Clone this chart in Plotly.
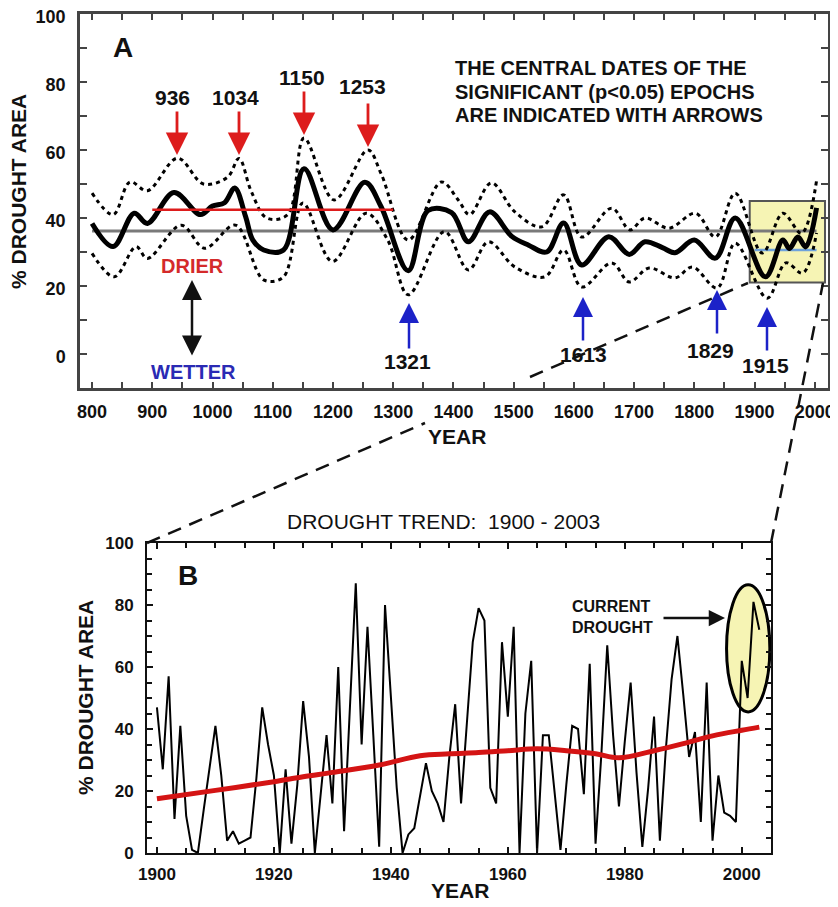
import plotly.graph_objects as go

# The page body has a default 8px margin, so the figure is sized to fill the
# rest of the 838x907 window and all pixel positions are measured from the window.
OFF = 8
W, H = 838 - OFF, 907 - OFF
FONT = "Liberation Sans, Arial, Helvetica, sans-serif"

# ---------------- Panel A data ----------------
a_years = [800, 835, 870, 892, 936, 980, 1000, 1020, 1037, 1055, 1067, 1085, 1118, 1152,
           1200, 1253, 1280, 1325, 1358, 1397, 1425, 1460, 1497, 1525, 1555, 1583, 1613,
           1658, 1692, 1718, 1747, 1768, 1800, 1835, 1868, 1918, 1947, 1958, 1972, 1985, 2003]
a_mean = [38.4, 31.6, 41.4, 38.4, 47.5, 41.0, 43.5, 44.5, 48.8, 40.4, 33.5, 30.6, 30.6, 54.5,
          36.5, 50.5, 43.3, 24.5, 42.2, 41.6, 33.0, 41.8, 34.6, 32.0, 30.0, 38.5, 26.2,
          34.5, 29.3, 33.0, 31.3, 29.8, 33.5, 28.2, 40.0, 22.7, 33.5, 31.0, 34.4, 31.5, 43.0]

a_up_years = [800, 835, 863, 892, 942, 985, 1025, 1044, 1064, 1090, 1125, 1152, 1202, 1258,
              1280, 1325, 1380, 1408, 1427, 1463, 1502, 1547, 1583, 1613, 1663, 1693, 1718,
              1758, 1802, 1835, 1868, 1913, 1947, 1978, 2003]
a_upper = [47.3, 41.0, 50.6, 48.0, 57.6, 50.0, 52.0, 57.5, 48.0, 40.0, 41.0, 63.5, 45.3, 60.0,
           53.0, 33.5, 50.6, 45.3, 41.0, 50.3, 41.8, 37.4, 46.8, 34.4, 42.9, 36.5, 40.0,
           37.0, 41.4, 34.4, 47.3, 29.7, 41.4, 35.5, 51.0]

a_lo_years = [800, 837, 873, 892, 948, 987, 1038, 1085, 1118, 1150, 1199, 1255, 1291, 1325,
              1385, 1425, 1458, 1502, 1552, 1583, 1613, 1663, 1692, 1725, 1768, 1797, 1838,
              1868, 1921, 1952, 1980, 2003]
a_lower = [29.6, 22.7, 31.6, 28.1, 37.9, 31.1, 37.9, 21.8, 22.7, 44.4, 27.2, 41.4, 33.5, 17.4,
           36.0, 24.7, 33.0, 25.6, 22.7, 30.6, 19.7, 26.8, 21.2, 25.3, 22.4, 25.6, 19.4,
           32.6, 16.4, 26.8, 23.8, 35.6]

mean_all = 36.2          # long-term mean 800-2003
mean_all_span = [800, 2003]
mean_dry = 42.4          # 900-1300 mean
mean_dry_span = [900, 1300]
mean_modern = 30.6       # 1900-2003 mean
mean_modern_span = [1900, 2003]

dry_epochs = ["936", "1034", "1150", "1253"]
wet_epochs = ["1321", "1613", "1829", "1915"]

a_xticks = [800, 900, 1000, 1100, 1200, 1300, 1400, 1500, 1600, 1700, 1800, 1900, 2000]

note_lines = ["THE CENTRAL DATES OF THE", "SIGNIFICANT (p&lt;0.05) EPOCHS", "ARE INDICATED WITH ARROWS"]

# ---------------- Panel B data ----------------
b_years = list(range(1900, 2004))
b_area = [47, 27, 57, 11, 41, 12, 1, 0, 14, 28,
          41, 25, 4, 7, 3, 4, 5, 24, 47, 35,
          25, 0, 27, 3, 22, 49, 31, 0, 18, 38,
          16, 60, 7, 45, 87, 35, 73, 38, 2, 80,
          49, 21, 0, 6, 8, 18, 29, 20, 16, 10,
          31, 48, 16, 42, 68, 79, 75, 21, 16, 68,
          44, 73, 0, 45, 62, 0, 38, 38, 19, 1,
          22, 41, 40, 19, 61, 3, 32, 67, 38, 15,
          36, 55, 26, 2, 21, 44, 4, 33, 56, 70,
          51, 31, 39, 10, 55, 4, 25, 13, 12, 10,
          62, 50, 81, 72]

b_trend_years = [1900, 1910, 1920, 1925, 1930, 1938, 1945, 1950, 1955, 1960, 1965, 1970,
                 1975, 1979, 1985, 1990, 1995, 2000, 2003]
b_trend = [17.5, 20.2, 23.0, 24.6, 26.0, 28.4, 31.4, 32.0, 32.4, 33.0, 33.6, 33.0,
           32.0, 30.7, 33.0, 35.3, 37.8, 39.6, 40.6]

# ---------------- helpers (window pixel -> paper) ----------------
def PX(x):
    return (x - OFF) / W

def PY(y):
    return 1 - (y - OFF) / H

YELLOW = "#f6f4b4"
RED = "#dd1c1c"
BLUE = "#1c22c8"

fig = go.Figure()

# Panel A traces
fig.add_trace(go.Scatter(x=mean_all_span, y=[mean_all, mean_all], mode="lines",
                         line=dict(color="#7a7a7a", width=3), xaxis="x", yaxis="y"))
fig.add_trace(go.Scatter(x=mean_modern_span, y=[mean_modern, mean_modern], mode="lines",
                         line=dict(color="#6fa3dc", width=2.5), xaxis="x", yaxis="y"))
fig.add_trace(go.Scatter(x=a_up_years, y=a_upper, mode="lines",
                         line=dict(color="black", width=3, dash="4px,4px", shape="spline", smoothing=1.0),
                         xaxis="x", yaxis="y"))
fig.add_trace(go.Scatter(x=a_lo_years, y=a_lower, mode="lines",
                         line=dict(color="black", width=3, dash="4px,4px", shape="spline", smoothing=1.0),
                         xaxis="x", yaxis="y"))
fig.add_trace(go.Scatter(x=a_years, y=a_mean, mode="lines",
                         line=dict(color="black", width=5, shape="spline", smoothing=1.0),
                         xaxis="x", yaxis="y"))
fig.add_trace(go.Scatter(x=mean_dry_span, y=[mean_dry, mean_dry], mode="lines",
                         line=dict(color=RED, width=2.5), xaxis="x", yaxis="y"))

# Panel B traces
fig.add_trace(go.Scatter(x=b_years, y=b_area, mode="lines",
                         line=dict(color="black", width=2), xaxis="x2", yaxis="y2"))
fig.add_trace(go.Scatter(x=b_trend_years, y=b_trend, mode="lines",
                         line=dict(color="#d41414", width=5, shape="spline", smoothing=1.0),
                         xaxis="x2", yaxis="y2"))

tickfontA = dict(family=FONT, size=18, color="#111", weight="bold")
tickfontB = dict(family=FONT, size=17, color="#111", weight="bold")

fig.update_layout(
    template="none",
    width=W, height=H, autosize=False,
    margin=dict(l=0, r=0, t=0, b=0, pad=0),
    paper_bgcolor="white", plot_bgcolor="white",
    showlegend=False,
    xaxis=dict(domain=[PX(80), PX(828)], range=[780, 2022], anchor="y", automargin=False,
               tickmode="array", tickvals=a_xticks, ticktext=[str(v) for v in a_xticks],
               ticks="inside", ticklen=6, tickwidth=2, tickcolor="#444",
               minor=dict(tickmode="linear", tick0=750, dtick=50, ticks="inside", ticklen=6, tickwidth=2, tickcolor="#444"),
               showline=True, linewidth=2.5, linecolor="#444", mirror="ticks",
               showgrid=False, zeroline=False, tickfont=tickfontA, ticklabelstandoff=6,
               ticklabeloverflow="allow"),
    yaxis=dict(domain=[PY(388), PY(14)], range=[-10, 100], anchor="x", automargin=False,
               tick0=0, dtick=20,
               ticks="inside", ticklen=7, tickwidth=2, tickcolor="#444",
               minor=dict(tick0=0, dtick=10, ticks="inside", ticklen=7, tickwidth=2, tickcolor="#444"),
               showline=True, linewidth=2.5, linecolor="#444", mirror="ticks",
               showgrid=False, zeroline=False, tickfont=tickfontA, ticklabelstandoff=8,
               ticklabelshift=3, ticklabeloverflow="allow"),
    xaxis2=dict(domain=[PX(147), PX(771)], range=[1898.3, 2005.0], anchor="y2", automargin=False,
                tick0=1900, dtick=20,
                ticks="inside", ticklen=6, tickwidth=2, tickcolor="#111",
                minor=dict(tick0=1900, dtick=5, ticks="inside", ticklen=5, tickwidth=2, tickcolor="#111"),
                showline=True, linewidth=2, linecolor="#111", mirror="ticks",
                showgrid=False, zeroline=False, tickfont=tickfontB, ticklabelstandoff=5,
                ticklabeloverflow="allow"),
    yaxis2=dict(domain=[PY(853), PY(543)], range=[0, 100], anchor="x2", automargin=False,
                tick0=0, dtick=20,
                ticks="inside", ticklen=6, tickwidth=2, tickcolor="#111",
                minor=dict(tick0=0, dtick=5, ticks="inside", ticklen=5, tickwidth=2, tickcolor="#111"),
                showline=True, linewidth=2, linecolor="#111", mirror="ticks",
                showgrid=False, zeroline=False, tickfont=tickfontB, ticklabelstandoff=8,
                ticklabeloverflow="allow"),
)

shapes = []
# highlight box 1900-2003 in panel A
shapes.append(dict(type="rect", xref="x", yref="y", x0=1892, x1=2017, y0=21, y1=45,
                   fillcolor=YELLOW, line=dict(color="#555", width=2), layer="below"))
# current drought ellipse in panel B
shapes.append(dict(type="circle", xref="x2", yref="y2", x0=1997.4, x1=2004.8, y0=45.5, y1=86.5,
                   fillcolor=YELLOW, line=dict(color="black", width=3), layer="below"))
# dashed connector lines
def seg(x0, y0, x1, y1):
    return dict(type="line", xref="paper", yref="paper", x0=PX(x0), y0=PY(y0), x1=PX(x1), y1=PY(y1),
                line=dict(color="#111", width=2.5, dash="14px,9px"), layer="above")
shapes.append(seg(147, 543, 425, 423))
shapes.append(seg(530, 377, 748, 283))
shapes.append(seg(771, 543, 823, 283))
fig.update_layout(shapes=shapes)

ann = []
def text(x, y, s, size, color="#111", weight="bold", xanchor="center", align="center", angle=0):
    ann.append(dict(xref="paper", yref="paper", x=PX(x), y=PY(y), text=s, showarrow=False,
                    xanchor=xanchor, yanchor="middle", align=align, textangle=angle,
                    font=dict(family=FONT, size=size, color=color, weight=weight)))

def arrow(xh, yh, xt, yt, color, width=2.8, side="end", size=1.6):
    ann.append(dict(xref="paper", yref="paper", x=PX(xh), y=PY(yh), ax=xt - xh, ay=yt - yh,
                    axref="pixel", ayref="pixel", text="", showarrow=True,
                    arrowhead=2, arrowsize=size, arrowwidth=width, arrowcolor=color,
                    arrowside=side, startarrowhead=2, startarrowsize=size))

# Panel A labels
text(123, 48, "A", 28)
for line_text, ly in zip(note_lines, [68, 92, 115]):
    text(453, ly, line_text, 20, xanchor="left", align="left")

# dry epoch arrows (red, pointing down)
dry_lab = [(172, 97), (235, 97), (302, 77), (362, 87)]
dry_arr = [(177, 155, 110), (239, 155, 110), (304, 135, 90), (368, 147, 102)]
for s, (lx, ly), (axp, tip, tail) in zip(dry_epochs, dry_lab, dry_arr):
    text(lx, ly, s, 21)
    arrow(axp, tip, axp, tail, RED)

# wet epoch arrows (blue, pointing up)
wet_lab = [(407, 362), (583, 355), (710, 351), (765, 366)]
wet_arr = [(409, 303, 350), (583, 297, 342), (717, 290, 335), (767, 307, 352)]
for s, (lx, ly), (axp, tip, tail) in zip(wet_epochs, wet_lab, wet_arr):
    text(lx, ly, s, 21)
    arrow(axp, tip, axp, tail, BLUE, width=2.5)

text(192, 266, "DRIER", 20, color="#d42a2a")
text(193, 372, "WETTER", 20, color="#2a2ab4")
arrow(192, 280, 192, 357, "#111", width=2.5, side="end+start")

text(19, 192, "% DROUGHT AREA", 21, angle=-90)
text(457, 437, "YEAR", 21)

# Panel B labels
text(443, 521, "DROUGHT TREND:  1900 - 2003", 21, weight="normal")
text(188, 575, "B", 28)
text(85, 698, "% DROUGHT AREA", 21, angle=-90)
text(460, 890, "YEAR", 21)
text(570, 617, "CURRENT<br>DROUGHT", 16, xanchor="left", align="left")
arrow(725, 618, 662, 618, "#111", width=2.5, size=1.3)

fig.update_layout(annotations=ann)

fig.write_html("out.html")
